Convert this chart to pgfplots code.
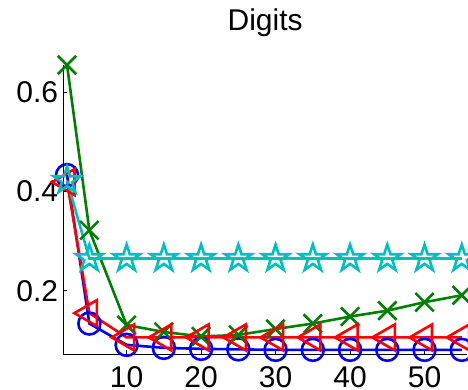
\documentclass[border=0pt]{standalone}
\usepackage{fontspec}
\setmainfont{Liberation Sans}
\usepackage{pgfplots}
\pgfplotsset{compat=1.18}
\usetikzlibrary{plotmarks}

\definecolor{mblue}{rgb}{0,0,1}
\definecolor{mgreen}{rgb}{0,0.5,0}
\definecolor{mred}{rgb}{1,0,0}
\definecolor{mcyan}{rgb}{0,0.75,0.75}

% outlined five-pointed star
\pgfdeclareplotmark{pentagram}{%
  \pgfpathmoveto{\pgfpointpolar{90}{\pgfplotmarksize}}%
  \pgfpathlineto{\pgfpointpolar{126}{0.382\pgfplotmarksize}}%
  \pgfpathlineto{\pgfpointpolar{162}{\pgfplotmarksize}}%
  \pgfpathlineto{\pgfpointpolar{198}{0.382\pgfplotmarksize}}%
  \pgfpathlineto{\pgfpointpolar{234}{\pgfplotmarksize}}%
  \pgfpathlineto{\pgfpointpolar{270}{0.382\pgfplotmarksize}}%
  \pgfpathlineto{\pgfpointpolar{306}{\pgfplotmarksize}}%
  \pgfpathlineto{\pgfpointpolar{342}{0.382\pgfplotmarksize}}%
  \pgfpathlineto{\pgfpointpolar{18}{\pgfplotmarksize}}%
  \pgfpathlineto{\pgfpointpolar{54}{0.382\pgfplotmarksize}}%
  \pgfpathclose
  \pgfusepathqstroke
}

\begin{document}
\begin{tikzpicture}[x=1pt,y=1pt]
\useasboundingbox (0,0) rectangle (468,389);
\clip (0,0) rectangle (468,389);
\begin{axis}[
  at={(63.3pt,34.7pt)}, anchor=south west,
  scale only axis, width=403.7pt, height=289.3pt,
  xmin=1.5, xmax=55.7, ymin=0.072, ymax=0.655,
  axis x line*=bottom, axis y line*=left,
  axis line style={-, line width=0.8pt},
  xtick={10,20,30,40,50}, ytick={0.2,0.4,0.6},
  yticklabels={0.2,0.4,0.6},
  tick align=inside, major tick length=4pt,
  tick style={black, line width=0.6pt},
  /pgf/number format/assume math mode=true,
  ticklabel style={font=\fontsize{30}{36}\selectfont, inner sep=0pt},
  xticklabel style={anchor=north, yshift=-12pt},
  yticklabel style={anchor=east, xshift=-5pt},
  title={Digits},
  title style={font=\fontsize{30}{36}\selectfont, at={(0.5,1)}, anchor=base, yshift=28pt, inner sep=0pt},
  clip=false,
]
% circles
\addplot[mblue, line width=2.6pt, mark=o, mark size=11pt,
  mark options={solid, line width=2.6pt}] coordinates {
  (2,0.433) (5,0.134) (10,0.091) (15,0.085) (20,0.083) (25,0.082)
  (30,0.081) (35,0.081) (40,0.081) (45,0.081) (50,0.081) (55,0.081)};
% crosses
\addplot[mgreen, line width=2.6pt, mark=x, mark size=13pt,
  mark options={solid, line width=2.6pt}] coordinates {
  (2,0.655) (5,0.322) (10,0.131) (15,0.117) (20,0.108) (25,0.111)
  (30,0.123) (35,0.134) (40,0.148) (45,0.160) (50,0.177) (55,0.191)};
% left-pointing triangles
\addplot[mred, line width=2.6pt, mark=triangle, mark size=15pt,
  mark options={solid, line width=2.6pt, rotate=90}] coordinates {
  (2,0.419) (5,0.155) (10,0.106) (15,0.106) (20,0.106) (25,0.106)
  (30,0.106) (35,0.106) (40,0.106) (45,0.106) (50,0.106) (55,0.106)};
% stars
\addplot[mcyan, line width=2.6pt, mark=pentagram, mark size=14pt,
  mark options={solid, line width=2.6pt}] coordinates {
  (2,0.422) (5,0.265) (10,0.265) (15,0.265) (20,0.265) (25,0.265)
  (30,0.265) (35,0.265) (40,0.265) (45,0.265) (50,0.265) (55,0.265)};
\end{axis}
\end{tikzpicture}
\end{document}
